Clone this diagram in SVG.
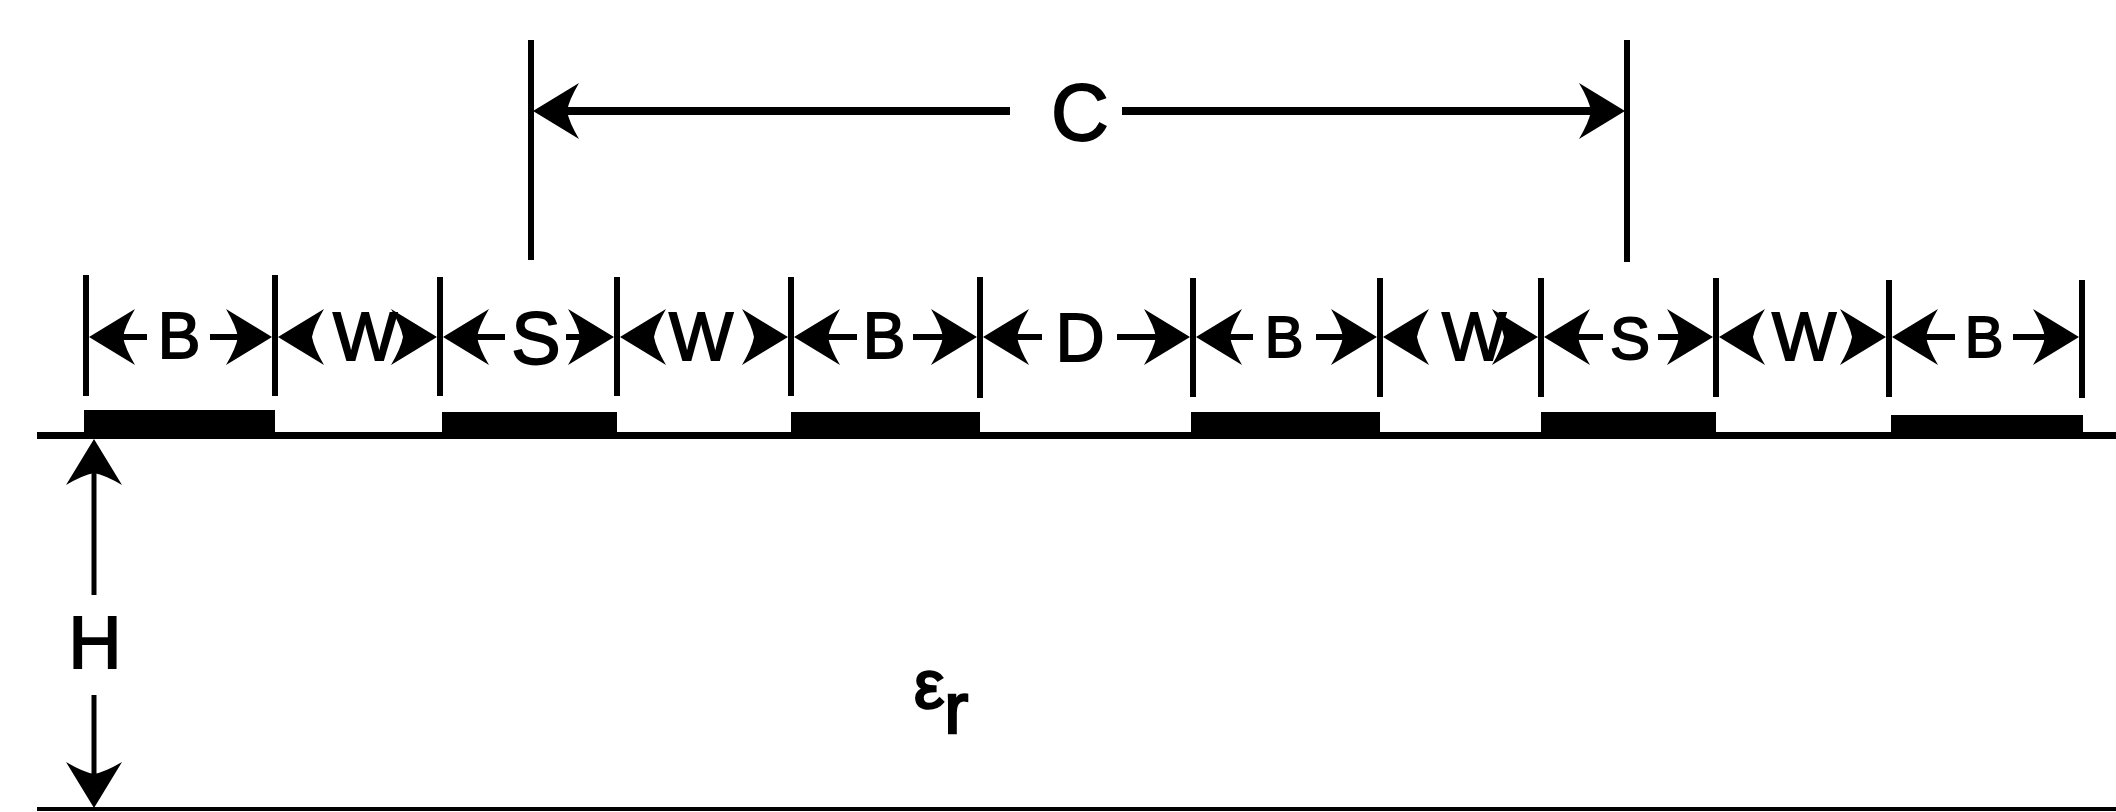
<svg xmlns="http://www.w3.org/2000/svg" width="2116" height="812" viewBox="0 0 2116 812">
<style>
.lbl{font-family:"Liberation Sans","Arial",sans-serif;fill:#000;stroke:#000;stroke-width:1.8;text-anchor:middle}
.ln{stroke:#000;fill:none;stroke-linecap:butt}
.tick{stroke:#000;stroke-width:6}
.stem{stroke:#000;stroke-width:6}
</style>
<defs>
<path id="ah" d="M0,0 L-46,-28 Q-36,-11 -34,0 Q-36,11 -46,28 Z" fill="#000"/>
</defs>
<rect width="2116" height="812" fill="#fff"/>
<g id="substrate">
<rect x="37" y="432" width="2079" height="7" fill="#000"/>
<rect x="37" y="807" width="2079" height="4" fill="#000"/>
</g>
<g id="conductors" fill="#000">
<rect x="84" y="410" width="191" height="24"/>
<rect x="442" y="412" width="175" height="22"/>
<rect x="791" y="412" width="189" height="22"/>
<rect x="1191" y="412" width="189" height="22"/>
<rect x="1541" y="412" width="175" height="22"/>
<rect x="1891" y="415" width="192" height="19"/>
</g>
<g id="connectors">
<g id="dim-C">
<line class="ln" x1="531" y1="40" x2="531" y2="260" stroke-width="6"/>
<line class="ln" x1="1627" y1="40" x2="1627" y2="262" stroke-width="6"/>
<line class="ln" x1="560" y1="111" x2="1010" y2="111" stroke-width="8"/>
<line class="ln" x1="1122" y1="111" x2="1600" y2="111" stroke-width="8"/>
<use href="#ah" transform="translate(533,111) rotate(180)"/>
<use href="#ah" transform="translate(1625,111)"/>
</g>
<g id="ticks">
<line class="tick" x1="86" y1="275" x2="86" y2="396"/>
<line class="tick" x1="275" y1="275" x2="275" y2="396"/>
<line class="tick" x1="440" y1="277" x2="440" y2="396"/>
<line class="tick" x1="617" y1="277" x2="617" y2="396"/>
<line class="tick" x1="791" y1="277" x2="791" y2="396"/>
<line class="tick" x1="980" y1="277" x2="980" y2="398"/>
<line class="tick" x1="1193" y1="278" x2="1193" y2="397"/>
<line class="tick" x1="1380" y1="278" x2="1380" y2="397"/>
<line class="tick" x1="1541" y1="278" x2="1541" y2="397"/>
<line class="tick" x1="1716" y1="278" x2="1716" y2="397"/>
<line class="tick" x1="1889" y1="280" x2="1889" y2="397"/>
<line class="tick" x1="2082" y1="280" x2="2082" y2="398"/>
</g>
<g id="stems">
<line class="stem" x1="100" y1="337" x2="147" y2="337"/>
<line class="stem" x1="210" y1="337" x2="255" y2="337"/>
<line class="stem" x1="455" y1="337" x2="505" y2="337"/>
<line class="stem" x1="566" y1="337" x2="600" y2="337"/>
<line class="stem" x1="805" y1="337" x2="857" y2="337"/>
<line class="stem" x1="913" y1="337" x2="960" y2="337"/>
<line class="stem" x1="995" y1="337" x2="1042" y2="337"/>
<line class="stem" x1="1117" y1="337" x2="1170" y2="337"/>
<line class="stem" x1="1210" y1="337" x2="1253" y2="337"/>
<line class="stem" x1="1316" y1="337" x2="1360" y2="337"/>
<line class="stem" x1="1555" y1="337" x2="1603" y2="337"/>
<line class="stem" x1="1658" y1="337" x2="1700" y2="337"/>
<line class="stem" x1="1905" y1="337" x2="1955" y2="337"/>
<line class="stem" x1="2013" y1="337" x2="2065" y2="337"/>
</g>
<g id="arrowheads">
<use href="#ah" transform="translate(89,337) rotate(180)"/>
<use href="#ah" transform="translate(272,337)"/>
<use href="#ah" transform="translate(278,337) rotate(180)"/>
<use href="#ah" transform="translate(437,337)"/>
<use href="#ah" transform="translate(443,337) rotate(180)"/>
<use href="#ah" transform="translate(614,337)"/>
<use href="#ah" transform="translate(620,337) rotate(180)"/>
<use href="#ah" transform="translate(788,337)"/>
<use href="#ah" transform="translate(794,337) rotate(180)"/>
<use href="#ah" transform="translate(977,337)"/>
<use href="#ah" transform="translate(983,337) rotate(180)"/>
<use href="#ah" transform="translate(1190,337)"/>
<use href="#ah" transform="translate(1196,337) rotate(180)"/>
<use href="#ah" transform="translate(1377,337)"/>
<use href="#ah" transform="translate(1383,337) rotate(180)"/>
<use href="#ah" transform="translate(1538,337)"/>
<use href="#ah" transform="translate(1544,337) rotate(180)"/>
<use href="#ah" transform="translate(1713,337)"/>
<use href="#ah" transform="translate(1719,337) rotate(180)"/>
<use href="#ah" transform="translate(1886,337)"/>
<use href="#ah" transform="translate(1892,337) rotate(180)"/>
<use href="#ah" transform="translate(2079,337)"/>
</g>
<g id="dim-H">
<line class="ln" x1="94" y1="470" x2="94" y2="595" stroke-width="5"/>
<line class="ln" x1="94" y1="695" x2="94" y2="780" stroke-width="5"/>
<use href="#ah" transform="translate(94,439) rotate(-90)"/>
<use href="#ah" transform="translate(94,808) rotate(90)"/>
</g>
</g>
<g id="labels">
<text class="lbl" x="1080" y="140" font-size="80">C</text>
<text class="lbl" x="179" y="358" font-size="64">B</text>
<text class="lbl" x="365" y="360" font-size="68">W</text>
<text class="lbl" x="536" y="364" font-size="74">S</text>
<text class="lbl" x="701" y="360" font-size="68">W</text>
<text class="lbl" x="884" y="358" font-size="64">B</text>
<text class="lbl" x="1080" y="361" font-size="68">D</text>
<text class="lbl" x="1284" y="357" font-size="58">B</text>
<text class="lbl" x="1474" y="360" font-size="68">W</text>
<text class="lbl" x="1630" y="359" font-size="60">S</text>
<text class="lbl" x="1804" y="360" font-size="68">W</text>
<text class="lbl" x="1984" y="357" font-size="58">B</text>
<text class="lbl" x="95" y="668" font-size="74">H</text>
<text x="914" y="708" font-family="Liberation Sans, Arial, sans-serif" font-size="68" fill="#000" stroke="#000" stroke-width="2.5">ε<tspan font-size="72" dy="25">r</tspan></text>
</g>
</svg>
